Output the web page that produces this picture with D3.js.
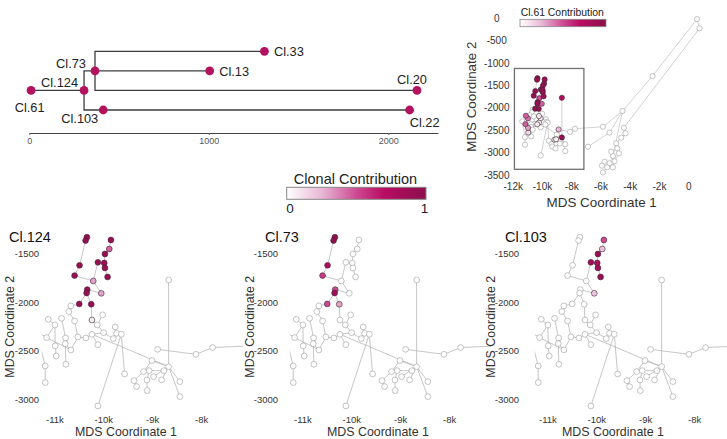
<!DOCTYPE html>
<html><head><meta charset="utf-8">
<script src="https://cdn.jsdelivr.net/npm/d3@7"></script>
<style>body{margin:0;background:#fff;} text{font-family:"Liberation Sans",Arial,Helvetica,sans-serif;}</style>
</head><body><svg id="c" width="727" height="439"></svg>
<script>
// ---------- phylogeny data ----------
const clones      = ["Cl.61","Cl.124","Cl.73","Cl.103","Cl.33","Cl.13","Cl.20","Cl.22"];
const cloneDist   = [10, 305, 366, 412, 1310, 1005, 2160, 2119];
const cloneRow    = [2, 2, 1, 3, 0, 1, 2, 3];
const cloneParent = [null, "Cl.61", "Cl.124", "Cl.124", "Cl.73", "Cl.73", "Cl.73", "Cl.103"];
const treeTicks   = [0, 1000, 2000];

// ---------- MDS node coordinates ----------
const mdsX = [-10346,-10373,-9855,-9889,-9977,-10496,-10121,-9991,-9977,-10598,-9923,-10216,-10339,-10352,-10052,-10502,-10257,-10243,
  -10673,-10714,-11136,-10864,-11000,-10598,-10025,-10134,-9766,-10005,-9739,-9643,-9807,-10243,-10366,-10530,-10782,-11170,-10993,-10789,
  -10673,-10973,-10775,-11198,-11198,-10121,-9575,-10121,-8675,-8675,-8900,-8116,-7776,-5870,-9016,-9187,-9071,-8982,-8771,-8819,-9118,
  -9384,-9330,-9112,-8444,-8444,-11380,
  560,740,-2476,-4528,-5417,-6894,-4432,-4323,-4617,-4959,-4890,-4774,-5184,-5301,-5075,-5417,-5759,-5937,-5574,-5184,-5869];
const mdsY = [-1336,-1370,-1364,-1456,-1507,-1623,-1592,-1599,-1650,-1728,-1742,-1783,-1871,-1906,-1909,-2018,-2021,-2182,
  -2038,-2096,-2175,-2165,-2233,-2192,-2130,-2233,-2253,-2311,-2318,-2328,-2372,-2328,-2366,-2355,-2366,-2362,-2447,-2424,
  -2488,-2550,-2635,-2652,-2822,-2434,-2734,-3061,-1773,-2659,-2482,-2533,-2464,-2420,-2597,-2710,-2700,-2761,-2700,-2795,-2795,
  -2802,-2863,-2904,-2812,-2965,-2300,
  -20,-225,-1288,-2069,-2553,-2866,-2442,-2567,-2665,-2790,-2902,-3013,-3074,-2977,-3192,-3237,-3201,-3290,-3326,-3326,-3438];
const edges = [[0,1],[1,5],[5,9],[9,11],[11,6],[6,7],[7,4],[4,3],[3,2],[7,8],[8,10],[11,14],[14,12],[12,13],[13,16],[16,17],[13,15],
  [15,18],[18,19],[19,23],[23,33],[20,22],[22,36],[36,39],[22,35],[35,64],[64,41],[41,42],[35,38],[21,34],[34,37],[37,40],[37,38],
  [38,33],[33,32],[32,31],[31,43],[17,25],[24,25],[25,27],[27,31],[26,28],[28,29],[28,30],[30,27],[29,44],[29,45],[31,47],[46,47],
  [47,52],[52,53],[53,59],[59,60],[47,56],[56,54],[54,58],[58,61],[47,55],[47,57],[47,62],[47,63],[48,49],[49,50],[50,51],
  [51,68],[68,67],[67,65],[65,66],[66,71],[71,72],[72,73],[73,74],[74,75],[75,76],[76,79],[68,77],[77,78],[77,80],[80,81],[81,82],
  [80,83],[83,85],[79,84],[68,69],[69,70]];

// ---------- clonal contributions [node, value] ----------
const contribCl61  = [[0,.9],[1,.9],[2,.9],[3,.85],[4,.9],[5,.9],[6,.9],[7,.9],[8,.9],[9,.9],[10,.9],[11,.5],[12,.9],[13,.9],[14,.45],[15,.9],[16,.9],[17,.08],
  [20,.45],[22,.4],[35,.45],[36,.3],[39,.12],[31,.06],[32,.06],[53,.05],[54,.05],[46,.75],[47,.9],[48,.25],[25,.05]];
const contribCl124 = [[0,.9],[1,.9],[2,.9],[3,.45],[4,.9],[5,.9],[6,.9],[7,.9],[8,.9],[9,.9],[10,.9],[11,.3],[12,.9],[13,.9],[14,.3],[15,.9],[16,.9],[17,.08]];
const contribCl73  = [[0,.95],[1,.95],[5,.75],[9,.55],[12,.5],[13,.85],[15,.5],[16,.3]];
const contribCl103 = [[2,.5],[3,.22],[4,.9],[6,.85],[7,.75],[8,.85],[10,.9],[14,.2]];

const trXTicks = [-12000,-10000,-8000,-6000,-4000,-2000,0];
const trYTicks = [0,-500,-1000,-1500,-2000,-2500,-3000,-3500];
const zoomBox  = [[-11920,-1120],[-7170,-3370]];
const btXTicks = [-11000,-10000,-9000,-8000];
const btYTicks = [-1500,-2000,-2500,-3000];
const panels   = [{name:"Cl.124", contrib:contribCl124},{name:"Cl.73", contrib:contribCl73},{name:"Cl.103", contrib:contribCl103}];

// ---------- drawing ----------
const svg = d3.select("#c");
const color = d3.scaleLinear().domain([0,0.25,0.5,0.7,1])
  .range(["#ffffff","#e9b8d6","#cd4a93","#b80c62","#8b0f4b"]);
const defs = svg.append("defs");
const grad = defs.append("linearGradient").attr("id","cg");
d3.range(0,1.0001,0.05).forEach(t=>grad.append("stop").attr("offset",t).attr("stop-color",color(t)));

// tree
const tx = d3.scaleLinear().domain([0,2277]).range([29.3,438]);
const ty = d3.scaleLinear().domain([0,3]).range([51.3,110]);
const tg = svg.append("g");
clones.forEach((c,i)=>{
  const p = cloneParent[i]; if(p===null) return;
  const j = clones.indexOf(p);
  tg.append("path").attr("d",`M${tx(cloneDist[j])},${ty(cloneRow[j])}V${ty(cloneRow[i])}H${tx(cloneDist[i])}`)
    .attr("fill","none").attr("stroke","#3d3d3d").attr("stroke-width",1.3);
});
clones.forEach((c,i)=>tg.append("circle").attr("cx",tx(cloneDist[i])).attr("cy",ty(cloneRow[i])).attr("r",4.4).attr("fill","#b2125e"));
const labLayout = {"Cl.61":[-1.5,22,"middle"],"Cl.124":[-6,-3,"end"],"Cl.73":[-9,-3,"end"],"Cl.103":[-5,12.5,"end"],
  "Cl.33":[9.5,4.7,"start"],"Cl.13":[9.5,4.7,"start"],"Cl.20":[-5,-6,"middle"],"Cl.22":[15,17,"middle"]};
clones.forEach((c,i)=>{
  const L = labLayout[c];
  tg.append("text").attr("x",tx(cloneDist[i])+L[0]).attr("y",ty(cloneRow[i])+L[1]).attr("text-anchor",L[2])
    .attr("font-size",12.8).attr("fill","#222").text(c);
});
const ax = svg.append("g").attr("transform","translate(0,133)")
  .call(d3.axisBottom(tx).tickValues(treeTicks).tickFormat(d3.format("d")).tickSize(2).tickSizeOuter(0));
ax.select(".domain").attr("stroke","#444");
ax.selectAll(".tick line").attr("stroke","#666");
ax.selectAll("text").attr("font-size",9).attr("fill","#555").style("font-family",'"Liberation Sans",Arial,sans-serif');

// main colorbar
svg.append("text").attr("x",355.5).attr("y",183.5).attr("text-anchor","middle").attr("font-size",14.5).attr("fill","#222").text("Clonal Contribution");
svg.append("rect").attr("x",286.7).attr("y",187.3).attr("width",139.3).attr("height",12).attr("fill","url(#cg)").attr("stroke","#888").attr("stroke-width",1);
svg.append("text").attr("x",290).attr("y",213).attr("text-anchor","middle").attr("font-size",13.5).attr("fill","#222").text("0");
svg.append("text").attr("x",424.5).attr("y",213).attr("text-anchor","middle").attr("font-size",13.5).attr("fill","#222").text("1");

function drawNet(g, sx, sy, contrib, r, ew){
  const val = new Array(mdsX.length).fill(0);
  contrib.forEach(([i,v])=>val[i]=v);
  g.selectAll("line").data(edges).join("line")
    .attr("x1",d=>sx(mdsX[d[0]])).attr("y1",d=>sy(mdsY[d[0]]))
    .attr("x2",d=>sx(mdsX[d[1]])).attr("y2",d=>sy(mdsY[d[1]]))
    .attr("stroke","#b3b3b3").attr("stroke-width",ew);
  const idx = d3.range(mdsX.length).sort((a,b)=>val[a]-val[b]);
  g.selectAll("circle").data(idx).join("circle")
    .attr("cx",i=>sx(mdsX[i])).attr("cy",i=>sy(mdsY[i])).attr("r",r)
    .attr("fill",i=>color(val[i])).attr("stroke",i=>val[i]>0?"#3a2a32":"#9c9c9c").attr("stroke-width",0.6);
}

// top-right overview
const trX = d3.scaleLinear().domain([-11915,900]).range([514.5,701.9]);
const trY = d3.scaleLinear().domain([-3600,100]).range([179.6,13.8]);
const trg = svg.append("g");
drawNet(trg.append("g"), trX, trY, contribCl61, 2.6, 0.6);
svg.append("rect").attr("x",trX(zoomBox[0][0])).attr("y",trY(zoomBox[0][1]))
  .attr("width",trX(zoomBox[1][0])-trX(zoomBox[0][0])).attr("height",trY(zoomBox[1][1])-trY(zoomBox[0][1]))
  .attr("fill","none").attr("stroke","#707070").attr("stroke-width",1.3);
trXTicks.forEach(t=>svg.append("text").attr("x",trX(t)).attr("y",189.5).attr("text-anchor","middle").attr("font-size",10).attr("fill","#333")
  .text(t===0?"0":(t/1000)+"k"));
trYTicks.forEach(t=>svg.append("text").attr("x",496.7).attr("y",trY(t)+3.5).attr("text-anchor","middle").attr("font-size",10).attr("fill","#333").text(t));
svg.append("text").attr("x",601.7).attr("y",206.5).attr("text-anchor","middle").attr("font-size",13.4).attr("fill","#333").text("MDS Coordinate 1");
svg.append("text").attr("transform","translate(475.5,96.7) rotate(-90)").attr("text-anchor","middle").attr("font-size",13.4).attr("fill","#333").text("MDS Coordinate 2");
svg.append("text").attr("x",562.3).attr("y",16).attr("text-anchor","middle").attr("font-size",10.4).attr("fill","#222").text("Cl.61 Contribution");
svg.append("rect").attr("x",520).attr("y",19.3).attr("width",86).attr("height",7.4).attr("fill","url(#cg)").attr("stroke","#888").attr("stroke-width",0.8);

// bottom panels
const bx = d3.scaleLinear().domain([-11270,-7150]).range([41.7,243.2]);
const by = d3.scaleLinear().domain([-3130,-1270]).range([412.7,230.8]);
const pl = [{ox:0,yl:27,yt:13.8,tt:9,xt:126},{ox:248,yl:266,yt:253.8,tt:265,xt:378},{ox:493,yl:507,yt:494.5,tt:505,xt:613}];
panels.forEach((p,k)=>{
  const L = pl[k];
  const cid = "clip"+k;
  defs.append("clipPath").attr("id",cid).append("rect").attr("x",L.ox+41.7).attr("y",222).attr("width",201.5).attr("height",195);
  const sx = v=>L.ox+bx(v);
  const g = svg.append("g").attr("clip-path",`url(#${cid})`);
  drawNet(g, sx, by, p.contrib, 2.9, 0.75);
  svg.append("text").attr("x",L.tt).attr("y",242).attr("font-size",14.5).attr("fill","#111").text(p.name);
  btXTicks.forEach(t=>svg.append("text").attr("x",sx(t)).attr("y",423.4).attr("text-anchor","middle").attr("font-size",9.5).attr("fill","#333").text((t/1000)+"k"));
  btYTicks.forEach(t=>svg.append("text").attr("x",L.yl).attr("y",by(t)+3.4).attr("text-anchor","middle").attr("font-size",9.5).attr("fill","#333").text(t));
  svg.append("text").attr("x",L.xt).attr("y",435.8).attr("text-anchor","middle").attr("font-size",12.4).attr("fill","#333").text("MDS Coordinate 1");
  svg.append("text").attr("transform",`translate(${L.yt},326.7) rotate(-90)`).attr("text-anchor","middle").attr("font-size",12.4).attr("fill","#333").text("MDS Coordinate 2");
});
</script></body></html>
